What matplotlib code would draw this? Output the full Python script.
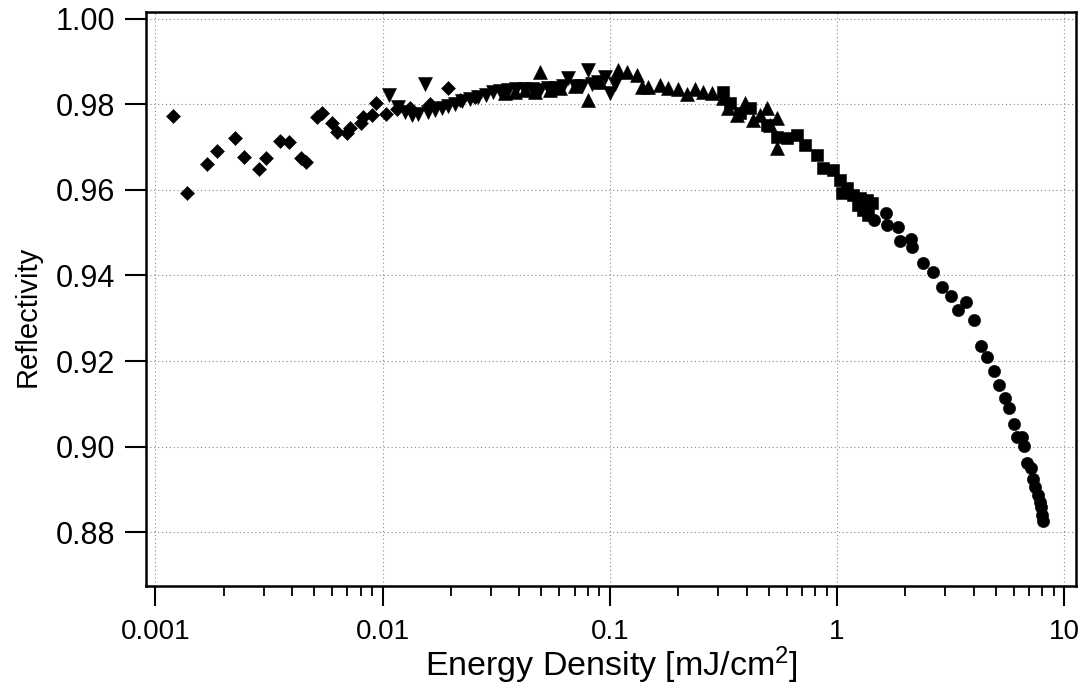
import numpy as np
import matplotlib
matplotlib.use("Agg")
import matplotlib.pyplot as plt
from matplotlib.ticker import LogLocator, NullFormatter

# ---------------- data (Energy density [mJ/cm^2], Reflectivity) ----------------
diamond_E = [0.001195, 0.001377, 0.001686, 0.001866, 0.002249, 0.00246, 0.00286,
             0.003076, 0.003548, 0.003855, 0.004376, 0.004615, 0.00514, 0.00541,
             0.00598, 0.006295, 0.006968, 0.00721, 0.00803, 0.00822, 0.00898,
             0.00938, 0.01038, 0.01161, 0.01324, 0.01622, 0.01945, 0.02198, 0.02558]
diamond_R = [0.9773, 0.9592, 0.9661, 0.9692, 0.9722, 0.9676, 0.9648,
             0.9675, 0.9715, 0.9712, 0.9675, 0.9666, 0.9771, 0.9779,
             0.9756, 0.9736, 0.9733, 0.9745, 0.9757, 0.9771, 0.9775,
             0.9804, 0.9778, 0.9789, 0.9792, 0.9801, 0.9838, 0.9811, 0.9818]

down_tri_E = [0.01070, 0.01173, 0.01259, 0.01351, 0.01436, 0.01541, 0.01589,
              0.01706, 0.01831, 0.01946, 0.02089, 0.02243, 0.02432, 0.02637,
              0.02860, 0.03071, 0.03296, 0.03575, 0.03877, 0.04204, 0.04560,
              0.04944, 0.05362, 0.05814, 0.06243, 0.06568, 0.07050, 0.07568,
              0.08040, 0.08375, 0.08900, 0.09555, 0.10051, 0.10573]
down_tri_R = [0.9822, 0.9794, 0.9783, 0.9776, 0.9778, 0.9848, 0.9783,
              0.9787, 0.9792, 0.9797, 0.9801, 0.9808, 0.9813, 0.9818,
              0.9822, 0.9829, 0.9832, 0.9834, 0.9836, 0.9836, 0.9836,
              0.9834, 0.9839, 0.9839, 0.9843, 0.9862, 0.9843, 0.9843,
              0.9881, 0.9848, 0.9853, 0.9864, 0.9827, 0.9848]

up_tri_E = [0.03467, 0.03838, 0.04246, 0.04699, 0.04944, 0.05471, 0.06055,
            0.07050, 0.08040, 0.09082, 0.10900, 0.11940, 0.13213, 0.13900,
            0.14772, 0.16683, 0.18092, 0.20018, 0.21937, 0.23785, 0.25792,
            0.28253, 0.31594, 0.33236, 0.36408, 0.39479, 0.42815, 0.45967,
            0.49338, 0.5087, 0.54613, 0.54613]
up_tri_R = [0.9827, 0.9829, 0.9834, 0.9829, 0.9876, 0.9834, 0.9839,
            0.9843, 0.9811, 0.9853, 0.9881, 0.9876, 0.9869, 0.9841,
            0.9841, 0.9846, 0.9839, 0.9836, 0.9825, 0.9836, 0.9829,
            0.9827, 0.9815, 0.9792, 0.9776, 0.9804, 0.9764, 0.9776,
            0.9792, 0.9752, 0.9768, 0.9698]

square_E = [0.31594, 0.33915, 0.37531, 0.41531, 0.49338, 0.54613, 0.60423,
            0.66881, 0.72530, 0.81902, 0.87008, 0.96316, 1.0339, 1.0541,
            1.1100, 1.1796, 1.2406, 1.2664, 1.3055, 1.3594, 1.3733, 1.4300]
square_R = [0.9829, 0.9804, 0.9780, 0.9792, 0.9752, 0.9724, 0.9722,
            0.9729, 0.9705, 0.9682, 0.9652, 0.9647, 0.9623, 0.9593,
            0.9605, 0.9588, 0.9565, 0.9581, 0.9553, 0.9577, 0.9542, 0.9570]

circle_E = [1.4593, 1.6482, 1.6650, 1.8612, 1.8993, 2.1232, 2.1448, 2.3988,
            2.6534, 2.9072, 3.1846, 3.4177, 3.7076, 4.0208, 4.3166, 4.5864,
            4.9238, 5.1794, 5.5053, 5.7329, 6.0308, 6.2163, 6.5391, 6.6730,
            6.8789, 7.1633, 7.3102, 7.4599, 7.6913, 7.8487, 7.9287, 8.0094, 8.0910]
circle_R = [0.9530, 0.9546, 0.9518, 0.9514, 0.9481, 0.9485, 0.9467, 0.9429,
            0.9408, 0.9373, 0.9352, 0.9319, 0.9338, 0.9296, 0.9235, 0.9209,
            0.9177, 0.9144, 0.9114, 0.9090, 0.9053, 0.9022, 0.9022, 0.9001,
            0.8962, 0.8950, 0.8924, 0.8905, 0.8887, 0.8870, 0.8859, 0.8840, 0.8826]

x_ticks = [0.001, 0.01, 0.1, 1, 10]
x_tick_labels = ["0.001", "0.01", "0.1", "1", "10"]
y_ticks = [0.88, 0.90, 0.92, 0.94, 0.96, 0.98, 1.00]
y_tick_labels = ["0.88", "0.90", "0.92", "0.94", "0.96", "0.98", "1.00"]

x_label = "Energy Density [mJ/cm$^{2}$]"
y_label = "Reflectivity"

# ---------------- figure ----------------
plt.rcParams["font.family"] = ["Liberation Sans", "DejaVu Sans"]
plt.rcParams["mathtext.fontset"] = "custom"
plt.rcParams["mathtext.rm"] = "Liberation Sans"
plt.rcParams["mathtext.it"] = "Liberation Sans"

W, H = 1087, 689
AX_L, AX_R, AX_T, AX_B = 146, 1076, 12, 586
fig = plt.figure(figsize=(W / 100, H / 100), dpi=100)
ax = fig.add_axes([AX_L / W, 1 - AX_B / H, (AX_R - AX_L) / W, (AX_B - AX_T) / H])

ax.set_xscale("log")
ax.set_xlim(0.000909, 11.26)
ax.set_ylim(0.8674, 1.0016)

series = [
    (diamond_E, diamond_R, "D", 7.0),
    (down_tri_E, down_tri_R, "v", 9.5),
    (up_tri_E, up_tri_R, "^", 9.5),
    (square_E, square_R, "s", 8.0),
    (circle_E, circle_R, "o", 8.8),
]
for E, R, m, ms in series:
    ax.plot(E, R, linestyle="none", marker=m, ms=ms, color="black",
            mec="black", mew=0.4, zorder=3)

ax.set_xticks(x_ticks)
ax.set_xticklabels(x_tick_labels, fontsize=20)
ax.xaxis.set_minor_locator(LogLocator(base=10, subs=np.arange(2, 10)))
ax.xaxis.set_minor_formatter(NullFormatter())
ax.set_yticks(y_ticks)
ax.set_yticklabels(y_tick_labels, fontsize=22)

ax.grid(True, which="major", linestyle=(0, (1, 2.5)), color="#888888", linewidth=0.8)
ax.set_axisbelow(True)

ax.tick_params(axis="x", which="major", direction="out", length=14.5, width=1.5, pad=9)
ax.tick_params(axis="x", which="minor", direction="out", length=7, width=1.3)
ax.tick_params(axis="y", which="major", direction="out", length=15, width=1.5, pad=7)
ax.tick_params(axis="y", which="minor", left=False)

for s in ax.spines.values():
    s.set_linewidth(1.8)
    s.set_color("black")

ax.set_xlabel(x_label, fontsize=24.5, labelpad=0)
ax.set_ylabel(y_label, fontsize=21)
ax.yaxis.set_label_coords(-(AX_L - 42) / (AX_R - AX_L), (AX_B - 316) / (AX_B - AX_T))

fig.savefig("out.png", dpi=100, facecolor="white")
